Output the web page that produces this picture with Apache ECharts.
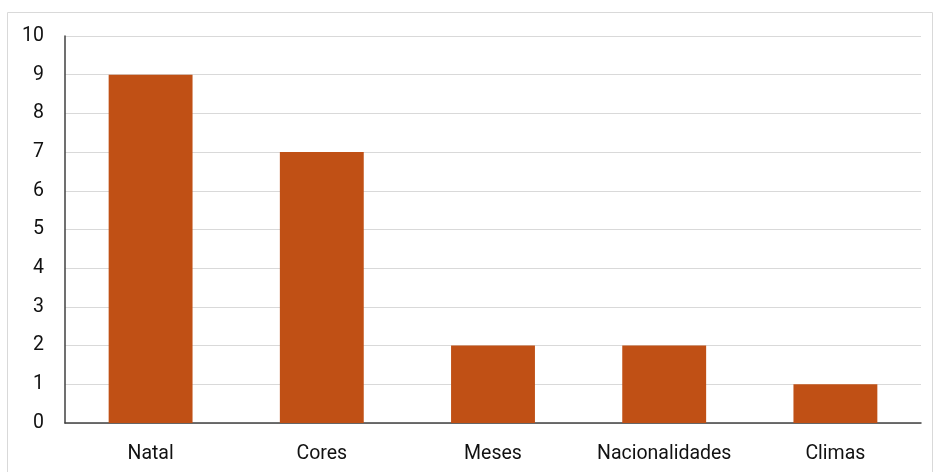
<!DOCTYPE html>
<html>
<head>
<meta charset="utf-8">
<script src="https://cdn.jsdelivr.net/npm/echarts@6/dist/echarts.min.js"></script>
<style>
	html, body { margin: 0; padding: 0; background: #fff; }
	#chart { width: 935px; height: 472px; }
</style>
</head>
<body>
<div id="chart"></div>
<script>
// categories and values
const categories = ['Natal', 'Cores', 'Meses', 'Nacionalidades', 'Climas']
const counts = [9, 7, 2, 2, 1]

const chart = echarts.init(document.getElementById('chart'))

const option = {
	animation: false,
	textStyle: { fontFamily: 'Roboto' },
	graphic: [
		{
			type: 'rect',
			shape: { x: 7.5, y: 12.5, width: 925, height: 470 },
			style: { fill: 'none', stroke: '#d9d9d9', lineWidth: 1 },
			silent: true,
		},
	],
	grid: {
		left: 65,
		right: 14,
		top: 36,
		bottom: 49,
	},
	xAxis: {
		type: 'category',
		data: categories,
		axisLine: { lineStyle: { color: '#404040', width: 1.5 } },
		axisTick: { show: false },
		axisLabel: { color: '#111', fontSize: 19.5, margin: 21, interval: 0, hideOverlap: false },
	},
	yAxis: {
		type: 'value',
		min: 0,
		max: 10,
		interval: 1,
		axisLine: { show: true, lineStyle: { color: '#404040', width: 1.5 } },
		axisTick: { show: false },
		axisLabel: { color: '#111', fontSize: 19.5, margin: 21 },
		splitLine: { lineStyle: { color: '#d9d9d9', width: 1 } },
	},
	series: [
		{
			type: 'bar',
			data: counts,
			barWidth: '49%',
			itemStyle: { color: '#c05015' },
		},
	],
}

chart.setOption(option)
</script>
</body>
</html>
